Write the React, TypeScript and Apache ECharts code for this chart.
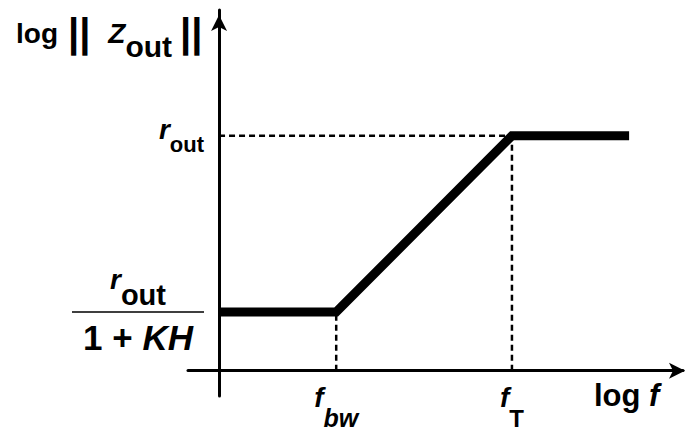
import React, { useEffect, useRef } from "react";
import * as echarts from "echarts";

const FONT = '"Liberation Sans", Arial, Helvetica, sans-serif';

// Breakpoints of the closed-loop output impedance (log-frequency units)
const freqPoints = [0, 2, 5, 7];
// log||Zout|| at each breakpoint
const impedance = [1, 1, 4, 4];

// Named levels / corner frequencies used for guide lines and tick labels
const fBw = 2;
const fT = 5;
const zLow = 1; // r_out / (1 + KH)
const zHigh = 4; // r_out
const xTickValues = [fBw, fT];
const yTickValues = [zLow, zHigh];

// Axis extents
const xMin = -0.53;
const xMax = 7.92;
const yMin = -0.43;
const yMax = 6.14;

const curveData = freqPoints.map((f, i) => [f, impedance[i]]);

const App: React.FC = () => {
  const ref = useRef<HTMLDivElement>(null);

  useEffect(() => {
    if (!ref.current) return;
    const chart = echarts.init(ref.current, undefined, { renderer: "svg" });

    const bold = { fontFamily: FONT, fontWeight: "bold" as const, color: "#000" };
    const boldItalic = { ...bold, fontStyle: "italic" as const };

    const axisLineStyle = { color: "#000", width: 3 };

    const dashed = (data: number[][]) => ({
      type: "line",
      data,
      symbol: "none",
      silent: true,
      z: 1,
      lineStyle: { color: "#000", width: 2.5, type: [6, 4] },
    });

    chart.setOption({
      animation: false,
      backgroundColor: "#fff",
      grid: {
        left: 188,
        right: 2,
        top: 10,
        bottom: 35,
        containLabel: false,
        outerBoundsMode: "none",
      },
      xAxis: {
        type: "value",
        min: xMin,
        max: xMax,
        splitLine: { show: false },
        axisTick: { show: false },
        axisLine: {
          show: true,
          onZero: true,
          symbol: ["none", "arrow"],
          symbolSize: [12, 16],
          symbolOffset: [0, 2],
          lineStyle: axisLineStyle,
        },
        axisLabel: {
          show: true,
          customValues: xTickValues,
          margin: -13,
          formatter: (v: number) =>
            v === fBw ? "{f|f}{s|bw}" : "{f|f}{S|T}",
          rich: {
            f: { ...boldItalic, fontSize: 28, lineHeight: 47, verticalAlign: "top" },
            s: { ...boldItalic, fontSize: 25, lineHeight: 47, verticalAlign: "bottom" },
            S: { ...bold, fontSize: 24, lineHeight: 47, verticalAlign: "bottom" },
          },
        },
      },
      yAxis: {
        type: "value",
        min: yMin,
        max: yMax,
        splitLine: { show: false },
        axisTick: { show: false },
        axisLine: {
          show: true,
          onZero: true,
          symbol: ["none", "arrow"],
          symbolSize: [12, 16],
          symbolOffset: [0, -5],
          lineStyle: axisLineStyle,
        },
        axisLabel: {
          show: true,
          customValues: yTickValues,
          margin: -16,
          formatter: (v: number) =>
            v === zHigh
              ? "{r|r}{o|out}"
              : "{nr|r}{no|out}\n{hr|}\n{d|1 + }{dk|KH}",
          rich: {
            r: { ...boldItalic, fontSize: 28, padding: [0, 0, 12, 0] },
            o: { ...bold, fontSize: 22, padding: [18, 0, 0, 0] },
            nr: { ...boldItalic, fontSize: 28, align: "center", lineHeight: 40, padding: [0, 0, 12, 0] },
            no: { ...bold, fontSize: 29, align: "center", lineHeight: 40, padding: [18, 0, 0, 0] },
            hr: { width: 132, height: 0, borderColor: "#000", borderWidth: 1.5, lineHeight: 12 },
            d: { ...bold, fontSize: 35, align: "center", lineHeight: 40 },
            dk: { ...boldItalic, fontSize: 35, align: "center", lineHeight: 40 },
          },
        },
      },
      graphic: [
        {
          type: "text",
          left: 16,
          top: 13,
          style: {
            text: "{l|log}{b1|||}{z|Z}{s|out}{b2|||}",
            rich: {
              l: { ...bold, fontSize: 28 },
              b1: { ...bold, fontSize: 40, padding: [0, 18, 0, 10] },
              b2: { ...bold, fontSize: 40, padding: [0, 0, 0, 8] },
              z: { ...boldItalic, fontSize: 28 },
              s: { ...bold, fontSize: 30, padding: [26, 0, 0, 0] },
            },
          },
        },
        {
          type: "text",
          left: 594,
          top: 380,
          style: {
            text: "{l|log }{f|f}",
            rich: {
              l: { ...bold, fontSize: 31 },
              f: { ...boldItalic, fontSize: 31 },
            },
          },
        },
      ],
      series: [
        dashed([[0, zHigh], [fT, zHigh]]),
        dashed([[fBw, 0], [fBw, zLow]]),
        dashed([[fT, 0], [fT, zHigh]]),
        {
          type: "line",
          data: curveData,
          symbol: "none",
          silent: true,
          z: 3,
          lineStyle: { color: "#000", width: 9, cap: "butt", join: "miter" },
        },
      ],
    });

    return () => chart.dispose();
  }, []);

  return (
    <div
      ref={ref}
      style={{ position: "fixed", left: 0, top: 0, width: 685, height: 431, background: "#fff" }}
    />
  );
};

export default App;
